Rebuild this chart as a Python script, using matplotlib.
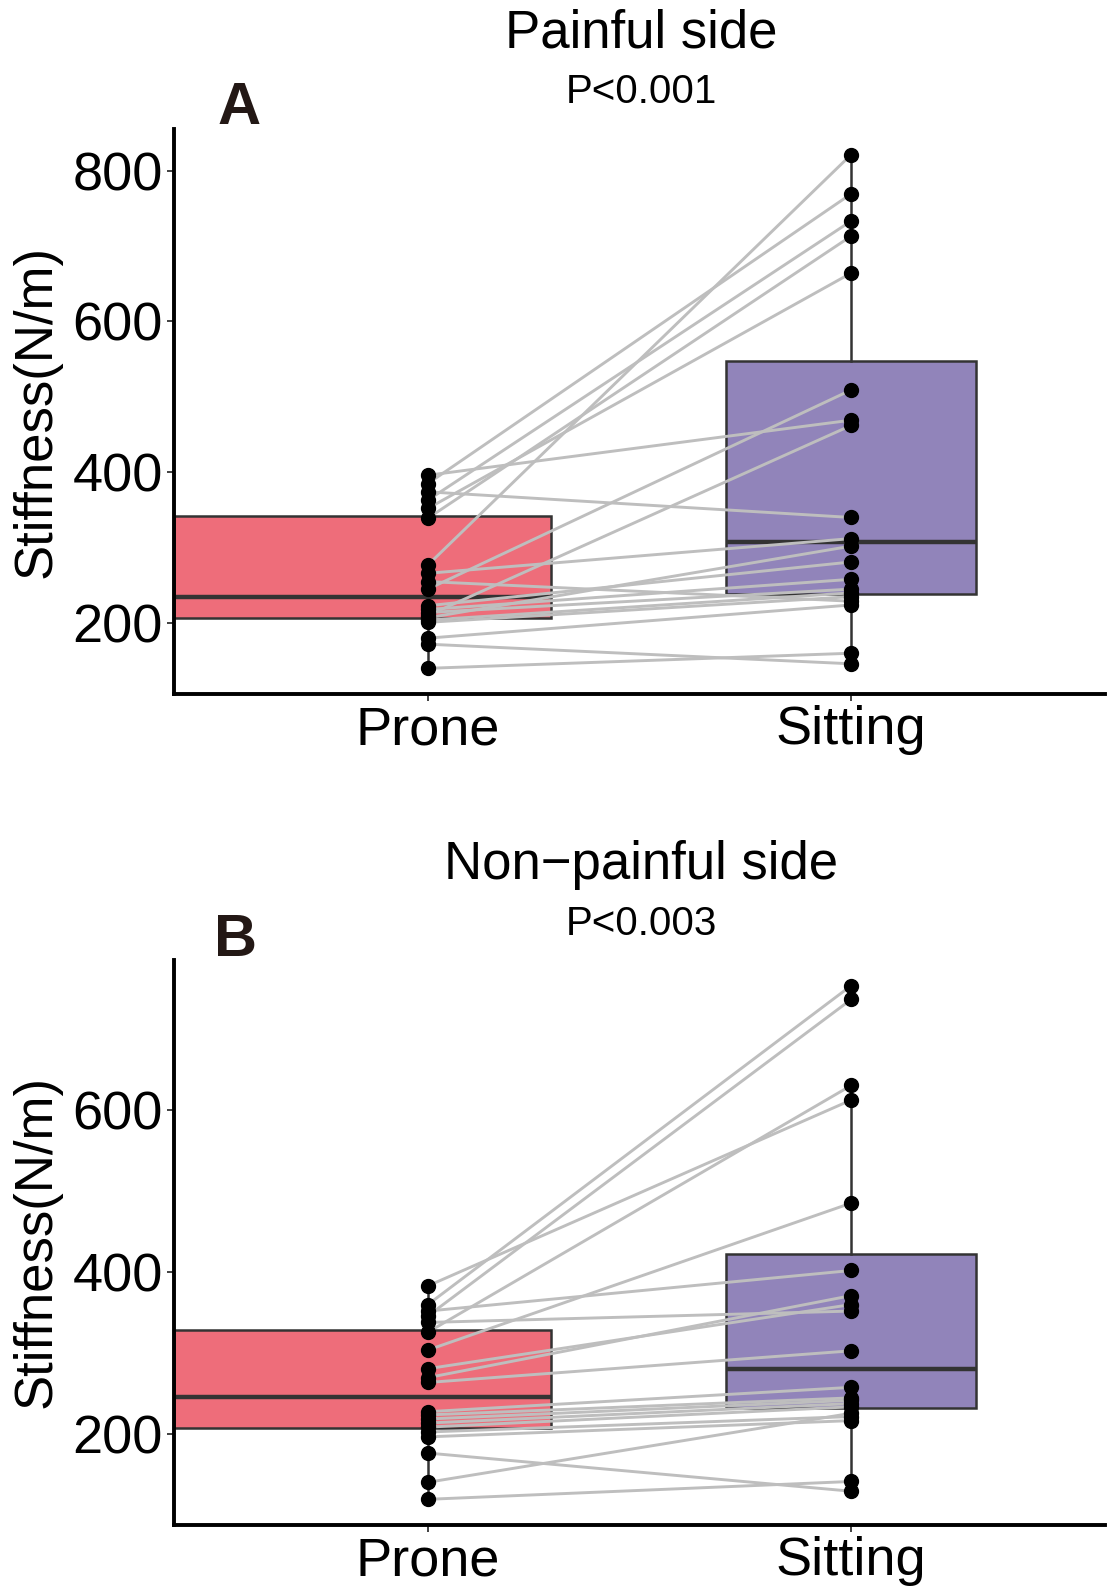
import numpy as np
import matplotlib.pyplot as plt

plt.rcParams['font.family'] = ['Liberation Sans', 'DejaVu Sans']

# Datos (N/m), emparejados por sujeto
grupos = ['Prone', 'Sitting']

a_prone = [396, 385, 374, 363, 352, 339, 277, 266, 255, 245,
           223, 218, 214, 210, 207, 204, 201, 180, 172, 140]
a_sitting = [469, 769, 340, 733, 664, 713, 821, 312, 229, 509,
             281, 258, 245, 462, 302, 240, 235, 224, 146, 160]

b_prone = [383, 360, 352, 346, 338, 326, 304, 281, 270, 264,
           228, 224, 219, 214, 209, 203, 197, 177, 141, 120]
b_sitting = [612, 753, 402, 736, 352, 630, 485, 360, 371, 303,
             258, 245, 242, 238, 234, 222, 217, 130, 226, 142]

a_yticks = [200, 400, 600, 800]
b_yticks = [200, 400, 600]

col_prone = '#EE6D7A'
col_sitting = '#9184BA'
gris_borde = '#333333'

W, H = 1115, 1589
fig = plt.figure(figsize=(W / 100, H / 100), dpi=100)


def dibujar_panel(rect, prone, sitting, yticks):
    ax = fig.add_axes(rect)
    # caja de Prone llega hasta el eje, la de Sitting centrada
    bp = ax.boxplot([prone, sitting], positions=[0.845, 2], widths=[0.89, 0.59],
                    patch_artist=True, showfliers=False, whis=1.5,
                    medianprops=dict(color=gris_borde, lw=3.2),
                    whiskerprops=dict(color=gris_borde, lw=1.8),
                    capprops=dict(lw=0),
                    boxprops=dict(edgecolor=gris_borde, lw=1.8))
    bp['boxes'][0].set_facecolor(col_prone)
    bp['boxes'][1].set_facecolor(col_sitting)
    for w in bp['whiskers'][:2]:
        w.set_xdata([1, 1])
    for p, s in zip(prone, sitting):
        ax.plot([1, 2], [p, s], color='#BEBEBE', lw=2.1, zorder=3)
    ax.plot(np.ones(len(prone)), prone, 'o', color='black', ms=10, zorder=4)
    ax.plot(np.full(len(sitting), 2), sitting, 'o', color='black', ms=10, zorder=4)

    todos = prone + sitting
    rango = max(todos) - min(todos)
    ax.set_ylim(min(todos) - 0.05 * rango, max(todos) + 0.05 * rango)
    ax.set_xlim(0.4, 2.6)
    ax.set_xticks([1, 2])
    ax.set_xticklabels(grupos)
    ax.set_yticks(yticks)
    for lado in ['top', 'right']:
        ax.spines[lado].set_visible(False)
    for lado in ['left', 'bottom']:
        ax.spines[lado].set_linewidth(2.8)
        ax.spines[lado].set_color('black')
    ax.tick_params(axis='both', labelsize=39, length=5, width=1.3,
                   color=gris_borde, pad=3)
    return ax


ax1 = dibujar_panel([174 / W, 1 - 694 / H, 931 / W, 565 / H], a_prone, a_sitting, a_yticks)
ax2 = dibujar_panel([174 / W, 1 - 1525 / H, 931 / W, 565 / H], b_prone, b_sitting, b_yticks)

# Titulos y etiquetas
fig.text(641 / W, 1 - 34 / H, 'Painful side', ha='center', va='center', fontsize=38)
fig.text(641 / W, 1 - 92 / H, 'P<0.001', ha='center', va='center', fontsize=29)
fig.text(239 / W, 1 - 108 / H, 'A', ha='center', va='center', fontsize=43,
         fontweight='bold', color='#231815')
fig.text(641 / W, 1 - 865 / H, 'Non\u2212painful side', ha='center', va='center', fontsize=38)
fig.text(641 / W, 1 - 924 / H, 'P<0.003', ha='center', va='center', fontsize=29)
fig.text(236 / W, 1 - 941 / H, 'B', ha='center', va='center', fontsize=43,
         fontweight='bold', color='#231815')

fig.text(37 / W, 1 - 411 / H, 'Stiffness(N/m)', rotation=90, ha='center', va='center', fontsize=38)
fig.text(37 / W, 1 - 1242 / H, 'Stiffness(N/m)', rotation=90, ha='center', va='center', fontsize=38)

fig.savefig('out.png', dpi=100)
